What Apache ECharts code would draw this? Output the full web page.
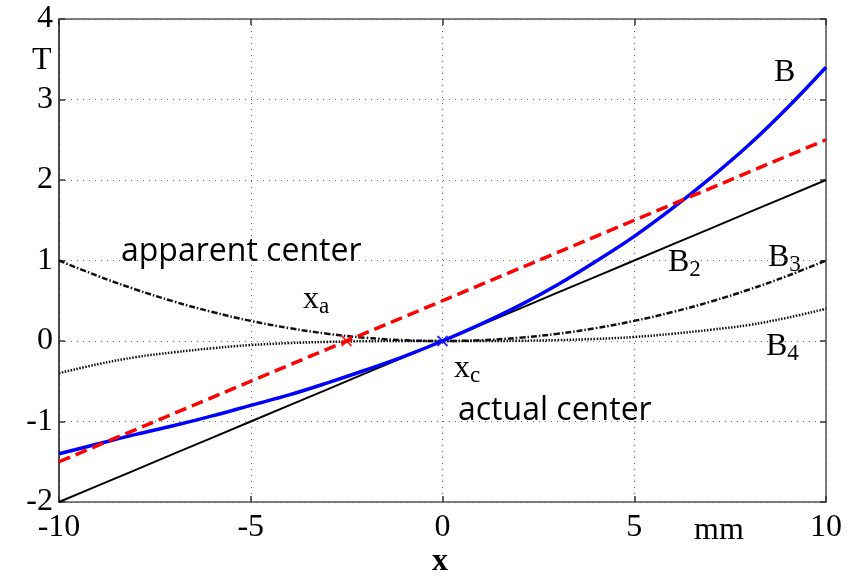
<!DOCTYPE html>
<html>
<head>
<meta charset="utf-8">
<script src="https://cdn.jsdelivr.net/npm/echarts@6/dist/echarts.min.js"></script>
<style>
  html, body { margin: 0; padding: 0; background: #fff; }
  #chart { width: 868px; height: 584px; }
</style>
</head>
<body>
<div id="chart"></div>
<script>
// Position along the magnet axis (mm)
const xs = [-10, -9, -8, -7, -6, -5, -4, -3, -2, -1, 0, 1, 2, 3, 4, 5, 6, 7, 8, 9, 10];
// Field components (T)
const fieldB  = [-1.4, -1.28, -1.16, -1.05, -0.93, -0.8, -0.67, -0.52, -0.36, -0.19, 0, 0.21, 0.44, 0.70, 0.99, 1.3, 1.65, 2.03, 2.44, 2.90, 3.4];
const fieldB2 = [-2, -1.8, -1.6, -1.4, -1.2, -1, -0.8, -0.6, -0.4, -0.2, 0, 0.2, 0.4, 0.6, 0.8, 1, 1.2, 1.4, 1.6, 1.8, 2];
const fieldB3 = [1, 0.81, 0.64, 0.49, 0.36, 0.25, 0.16, 0.09, 0.04, 0.01, 0, 0.01, 0.04, 0.09, 0.16, 0.25, 0.36, 0.49, 0.64, 0.81, 1];
const fieldB4 = [-0.4, -0.29, -0.2, -0.14, -0.09, -0.05, -0.026, -0.011, -0.003, 0, 0, 0, 0.003, 0.011, 0.026, 0.05, 0.09, 0.14, 0.2, 0.29, 0.4];
const tangent = [-1.5, -1.3, -1.1, -0.9, -0.7, -0.5, -0.3, -0.1, 0.1, 0.3, 0.5, 0.7, 0.9, 1.1, 1.3, 1.5, 1.7, 1.9, 2.1, 2.3, 2.5];
// Apparent and actual centre markers
const apparentCenter = [-2.5, 0];
const actualCenter = [0, 0];
const xTicks = [-10, -5, 0, 5, 10];
const yTicks = [-2, -1, 0, 1, 2, 3, 4];

const pairs = ys => xs.map((x, i) => [x, ys[i]]);
const serif = 'Liberation Serif';
const sans = 'Open Sans';
const crossPath = 'path://M0,0L10,10M10,0L0,10';

const chart = echarts.init(document.getElementById('chart'));

const gridLine = { show: true, lineStyle: { color: '#666', width: 1, type: [1, 5] } };
const frameDark = { show: true, onZero: false, lineStyle: { color: '#111', width: 1.5 } };
const frameGray = { show: true, onZero: false, lineStyle: { color: '#555', width: 1.5 } };
const ticks = { show: true, inside: true, length: 6, lineStyle: { color: '#333', width: 1.5 } };

function subLabel(x, y, main, sub, size) {
  return {
    type: 'text', left: x, top: y,
    style: {
      text: '{m|' + main + '}{s|' + sub + '}',
      rich: {
        m: { fontFamily: serif, fontSize: size, fill: '#000' },
        s: { fontFamily: serif, fontSize: size * 0.72, fill: '#000', padding: [size * 0.45, 0, 0, 0] }
      }
    }
  };
}

chart.setOption({
  animation: false,
  grid: { left: 59, right: 42, top: 19, bottom: 82 },
  xAxis: [
    {
      type: 'value', min: -10, max: 10, interval: 5,
      axisLine: frameGray, axisTick: ticks, splitLine: gridLine,
      axisLabel: {
        margin: 10, fontFamily: serif, fontSize: 32, color: '#000',
        customValues: xTicks
      }
    },
    {
      type: 'value', position: 'top', min: -10, max: 10, interval: 5,
      axisLine: frameGray, axisTick: ticks, splitLine: { show: false },
      axisLabel: { show: false }
    }
  ],
  yAxis: [
    {
      type: 'value', min: -2, max: 4, interval: 1,
      axisLine: frameDark, axisTick: ticks, splitLine: gridLine,
      axisLabel: {
        margin: 6, fontFamily: serif, fontSize: 32, color: '#000',
        customValues: yTicks
      }
    },
    {
      type: 'value', position: 'right', min: -2, max: 4, interval: 1,
      axisLine: frameGray, axisTick: ticks, splitLine: { show: false },
      axisLabel: { show: false }
    }
  ],
  series: [
    {
      type: 'line', data: pairs(fieldB2), symbol: 'none',
      lineStyle: { color: '#000', width: 2 }, z: 3
    },
    {
      type: 'line', data: pairs(fieldB3), symbol: 'none', smooth: 0.4,
      lineStyle: { color: '#111', width: 2.5, type: [6, 2, 1.5, 2] }, z: 3
    },
    {
      type: 'line', data: pairs(fieldB4), symbol: 'none', smooth: 0.4,
      lineStyle: { color: '#111', width: 2.5, type: [1.5, 1.5] }, z: 3
    },
    {
      type: 'line', data: pairs(tangent), symbol: 'none',
      lineStyle: { color: '#ff0000', width: 3.5, type: [12, 6] }, z: 5
    },
    {
      type: 'line', data: pairs(fieldB), symbol: 'none', smooth: 0.4,
      lineStyle: { color: '#0000ff', width: 3.5 }, z: 4
    },
    {
      type: 'scatter', data: [apparentCenter], symbol: crossPath, symbolSize: 10,
      itemStyle: { color: 'none', borderColor: '#ff0000', borderWidth: 2 }, z: 6
    },
    {
      type: 'scatter', data: [actualCenter], symbol: crossPath, symbolSize: 10,
      itemStyle: { color: 'none', borderColor: '#0000ff', borderWidth: 2 }, z: 6
    }
  ],
  graphic: [
    { type: 'text', left: 32, top: 45, style: { text: 'T', fontFamily: serif, fontSize: 32, fill: '#000' } },
    { type: 'text', left: 694, top: 515, style: { text: 'mm', fontFamily: serif, fontSize: 32, fill: '#000' } },
    { type: 'text', left: 432, top: 546, style: { text: 'x', fontFamily: serif, fontSize: 32, fontWeight: 'bold', fill: '#000' } },
    { type: 'text', left: 774, top: 57, style: { text: 'B', fontFamily: serif, fontSize: 32, fill: '#000' } },
    subLabel(668, 247, 'B', '2', 32),
    subLabel(768, 242, 'B', '3', 32),
    subLabel(766, 331, 'B', '4', 32),
    subLabel(303, 284, 'x', 'a', 32),
    subLabel(454, 353, 'x', 'c', 32),
    { type: 'text', left: 121, top: 236, style: { text: 'apparent center', fontFamily: sans, fontSize: 32, fill: '#000' } },
    { type: 'text', left: 458, top: 395, style: { text: 'actual center', fontFamily: sans, fontSize: 32, fill: '#000' } }
  ]
});
</script>
</body>
</html>
